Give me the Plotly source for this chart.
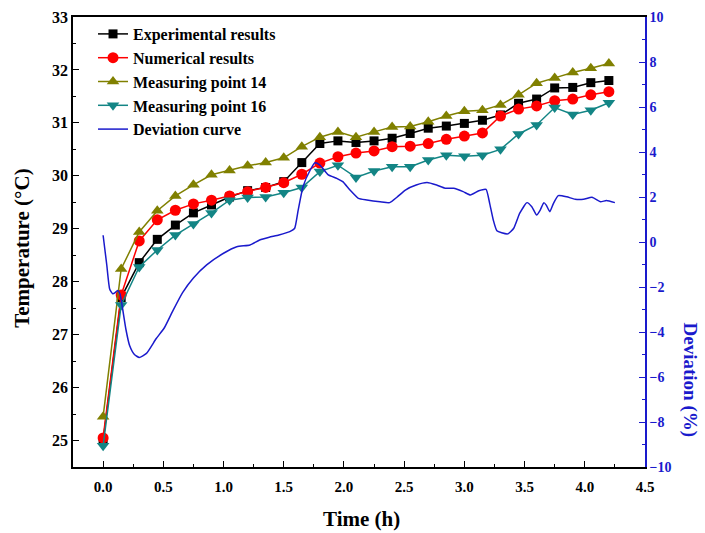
import plotly.graph_objects as go

# ---- data ----
time_h = [0.0, 0.15, 0.3, 0.45, 0.6, 0.75, 0.9, 1.05, 1.2, 1.35, 1.5, 1.65, 1.8, 1.95,
          2.1, 2.25, 2.4, 2.55, 2.7, 2.85, 3.0, 3.15, 3.3, 3.45, 3.6, 3.75, 3.9, 4.05, 4.2]

experimental = [25.0, 27.7, 28.36, 28.80, 29.07, 29.30, 29.45, 29.60, 29.72, 29.78, 29.89,
                30.25, 30.61, 30.66, 30.63, 30.66, 30.71, 30.80, 30.90, 30.94, 30.99, 31.05,
                31.15, 31.37, 31.45, 31.66, 31.67, 31.76, 31.80]

numerical = [25.05, 27.75, 28.77, 29.17, 29.35, 29.47, 29.54, 29.62, 29.70, 29.78, 29.87,
             30.03, 30.24, 30.36, 30.43, 30.47, 30.55, 30.56, 30.61, 30.69, 30.75, 30.81,
             31.13, 31.26, 31.32, 31.42, 31.45, 31.53, 31.59]

point14 = [25.45, 28.24, 28.94, 29.34, 29.62, 29.83, 30.02, 30.10, 30.19, 30.25, 30.34,
           30.55, 30.73, 30.83, 30.73, 30.83, 30.92, 30.93, 31.02, 31.13, 31.22, 31.24,
           31.34, 31.53, 31.75, 31.85, 31.95, 32.03, 32.12]

point16 = [24.9, 27.56, 28.28, 28.60, 28.88, 29.09, 29.30, 29.54, 29.59, 29.60, 29.68,
           29.78, 30.08, 30.20, 29.97, 30.09, 30.17, 30.17, 30.30, 30.39, 30.37, 30.39,
           30.50, 30.79, 30.96, 31.29, 31.16, 31.24, 31.38]

dev_time = [0.0, 0.03, 0.055, 0.08, 0.1, 0.12, 0.14, 0.16, 0.19, 0.22, 0.26, 0.30, 0.36,
            0.44, 0.51, 0.58, 0.66, 0.75, 0.86, 1.0, 1.11, 1.22, 1.30, 1.38, 1.46, 1.55,
            1.59, 1.62, 1.66, 1.72, 1.76, 1.80, 1.87, 1.94, 1.99, 2.05, 2.12, 2.19, 2.30,
            2.38, 2.44, 2.51, 2.60, 2.69, 2.77, 2.84, 2.91, 2.99, 3.05, 3.12, 3.18, 3.21,
            3.24, 3.27, 3.31, 3.36, 3.41, 3.46, 3.52, 3.56, 3.60, 3.63, 3.66, 3.68, 3.71,
            3.74, 3.78, 3.85, 3.92, 3.99, 4.06, 4.13, 4.18, 4.25]
deviation = [0.3, -1.0, -2.1, -2.3, -2.25, -2.15, -2.3, -2.9, -3.9, -4.6, -5.0, -5.13, -4.95,
             -4.3, -3.8, -3.05, -2.25, -1.6, -1.02, -0.5, -0.21, -0.13, 0.09, 0.21, 0.31, 0.46,
             0.6, 1.42, 2.46, 3.2, 3.52, 3.42, 2.98, 2.83, 2.68, 2.31, 1.94, 1.87, 1.79,
             1.75, 1.99, 2.31, 2.53, 2.64, 2.53, 2.39, 2.39, 2.24, 2.09, 2.28, 2.34, 1.72,
             0.98, 0.50, 0.41, 0.36, 0.61, 1.28, 1.75, 1.57, 1.2, 1.42, 1.75, 1.64, 1.35,
             1.72, 2.06, 2.01, 1.90, 1.90, 1.99, 1.79, 1.84, 1.75]

x_ticks = [0.0, 0.5, 1.0, 1.5, 2.0, 2.5, 3.0, 3.5, 4.0, 4.5]
y_ticks = [25, 26, 27, 28, 29, 30, 31, 32, 33]
y2_ticks = [-10, -8, -6, -4, -2, 0, 2, 4, 6, 8, 10]

FONT = "Liberation Serif"
BLUE = "#1a1acc"

fig = go.Figure()
fig.add_trace(go.Scatter(x=time_h, y=experimental, name="Experimental results",
                         mode="lines+markers", line=dict(color="black", width=1.5),
                         marker=dict(symbol="square", size=9, color="black")))
fig.add_trace(go.Scatter(x=time_h, y=numerical, name="Numerical results",
                         mode="lines+markers", line=dict(color="#ff0000", width=1.5),
                         marker=dict(symbol="circle", size=11, color="#ff0000")))
fig.add_trace(go.Scatter(x=time_h, y=point14, name="Measuring point 14",
                         mode="lines+markers", line=dict(color="#808000", width=1.5),
                         marker=dict(symbol="triangle-up", size=11, color="#808000")))
fig.add_trace(go.Scatter(x=time_h, y=point16, name="Measuring point 16",
                         mode="lines+markers", line=dict(color="#138585", width=1.5),
                         marker=dict(symbol="triangle-down", size=11, color="#138585")))
fig.add_trace(go.Scatter(x=dev_time, y=deviation, name="Deviation curve", yaxis="y2",
                         mode="lines", line=dict(color=BLUE, width=1.5, shape="spline",
                                                 smoothing=0.5)))

fig.update_layout(
    width=705, height=533,
    margin=dict(l=73, r=60, t=17, b=66),
    paper_bgcolor="white", plot_bgcolor="white",
    font=dict(family=FONT, color="black"),
    showlegend=True,
    legend=dict(x=0.035, y=1.0, xanchor="left", yanchor="top",
                bgcolor="rgba(0,0,0,0)", borderwidth=0,
                font=dict(family=FONT, size=16, color="black", weight="bold"),
                tracegroupgap=0, itemwidth=30),
    xaxis=dict(range=[-0.25, 4.5], tickvals=x_ticks, ticktext=[f"{v:.1f}" for v in x_ticks],
               ticks="inside", ticklen=6, tickwidth=1.2, tickcolor="black",
               minor=dict(ticks="inside", dtick=0.25, tick0=0, ticklen=3.5,
                          tickwidth=1.2, tickcolor="black"),
               showline=True, linecolor="black", linewidth=1.5, mirror=True,
               showgrid=False, zeroline=False, ticklabelstandoff=5, automargin=False,
               tickfont=dict(family=FONT, size=15, color="black", weight="bold")),
    yaxis=dict(range=[24.5, 33], tickvals=y_ticks,
               ticks="inside", ticklen=6, tickwidth=1.2, tickcolor="black",
               minor=dict(ticks="inside", dtick=0.5, tick0=0, ticklen=3.5,
                          tickwidth=1.2, tickcolor="black"),
               showline=True, linecolor="black", linewidth=1.5,
               showgrid=False, zeroline=False, automargin=False,
               tickfont=dict(family=FONT, size=16, color="black", weight="bold")),
    yaxis2=dict(range=[-10, 10], tickvals=y2_ticks, overlaying="y", side="right",
                ticks="inside", ticklen=6, tickwidth=1.2, tickcolor=BLUE,
                minor=dict(ticks="inside", dtick=1, tick0=0, ticklen=3.5,
                           tickwidth=1.2, tickcolor=BLUE),
                showline=True, linecolor=BLUE, linewidth=1.5,
                showgrid=False, zeroline=False, automargin=False,
                tickfont=dict(family=FONT, size=14, color=BLUE, weight="bold")),
    annotations=[
        dict(text="Time (h)", xref="paper", yref="paper", x=0.5035, y=-0.1156,
             xanchor="center", yanchor="middle", showarrow=False,
             font=dict(family=FONT, size=21, color="black", weight="bold")),
        dict(text="Temperature (°C)", xref="paper", yref="paper", x=-0.0892, y=0.487,
             xanchor="center", yanchor="middle", textangle=-90, showarrow=False,
             font=dict(family=FONT, size=21, color="black", weight="bold")),
        dict(text="Deviation (%)", xref="paper", yref="paper",
             x=1.078, y=0.193, xanchor="center", yanchor="middle",
             textangle=90, showarrow=False,
             font=dict(family=FONT, size=19, color=BLUE, weight="bold")),
    ],
)

fig.write_html("out.html")
